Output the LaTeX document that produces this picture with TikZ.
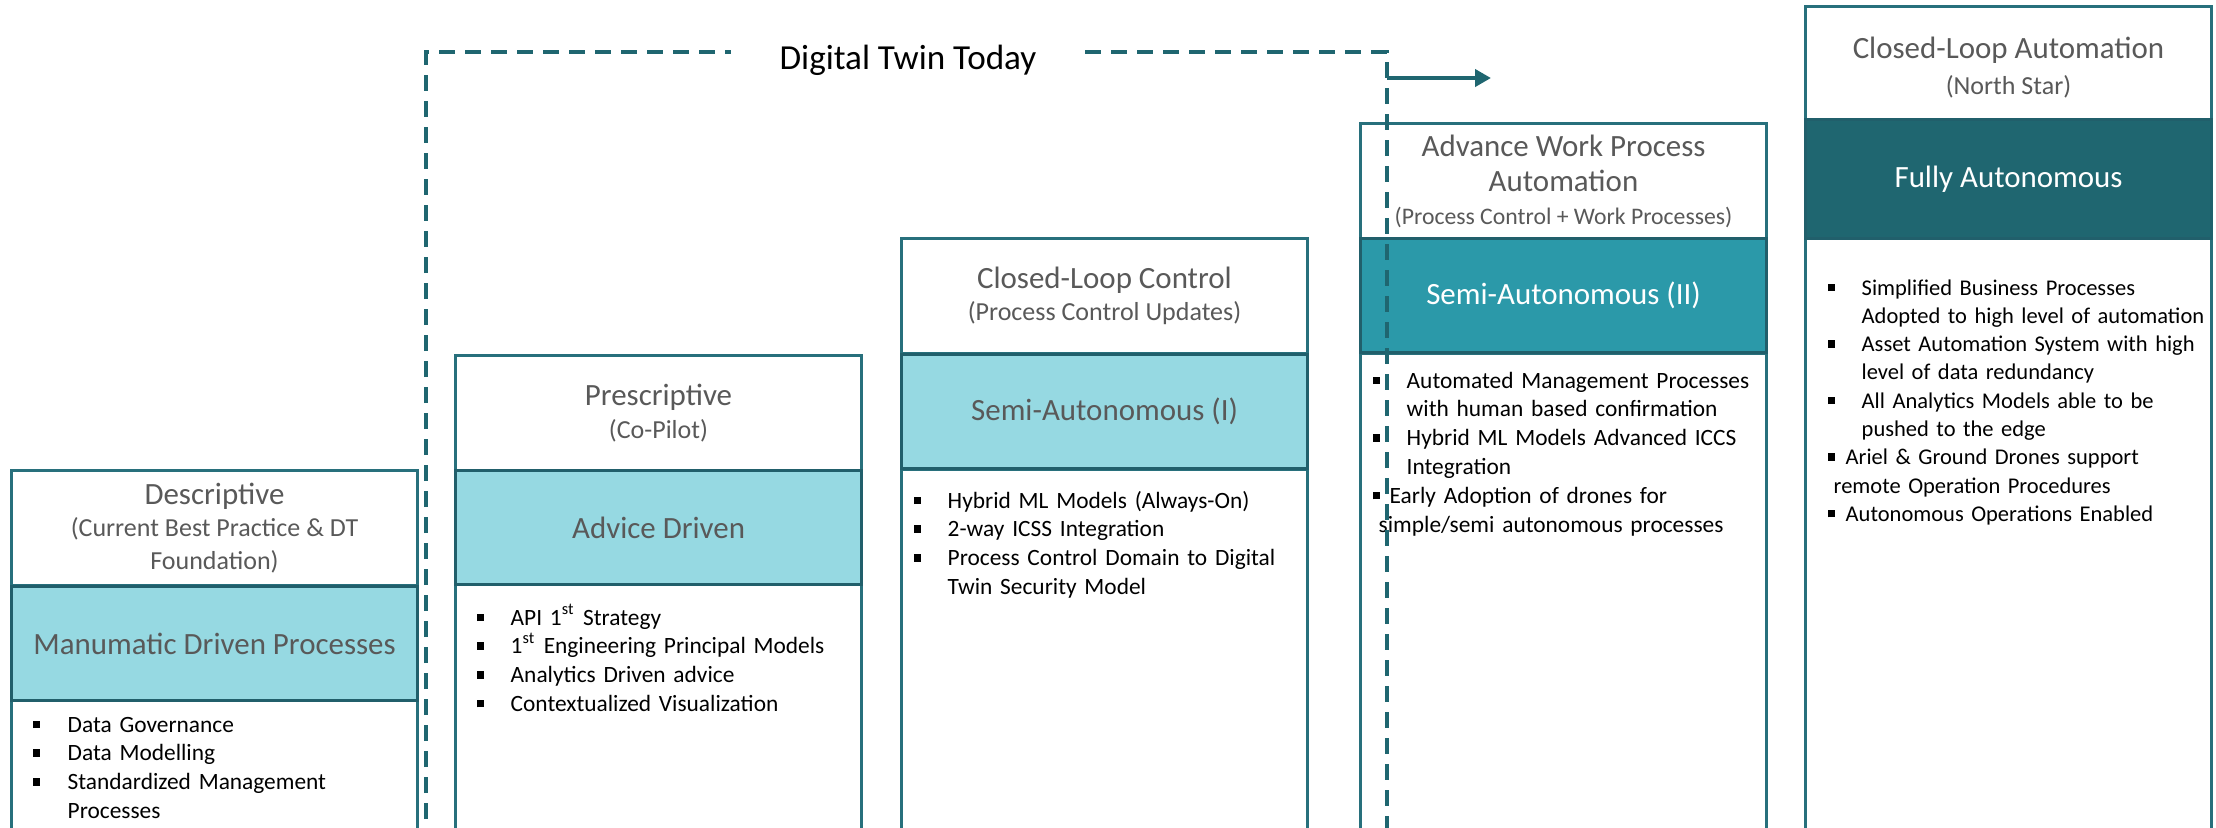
\documentclass[tikz,border=0pt]{standalone}
\usepackage{fontspec}
\setmainfont{Carlito}
\usepackage{tikz}
\usetikzlibrary{arrows.meta,positioning}
\definecolor{boxEdge}{RGB}{40,112,124}
\definecolor{bandEdge}{RGB}{33,95,107}
\definecolor{bandLight}{RGB}{150,217,226}
\definecolor{bandMid}{RGB}{43,153,169}
\definecolor{bandDark}{RGB}{31,102,112}
\definecolor{stageGray}{RGB}{89,89,89}

\newcommand{\stageTitle}{\fontsize{8.8}{10.5}\selectfont}
\newcommand{\stageSub}{\fontsize{7.4}{9.2}\selectfont}
\newcommand{\stageList}{\fontsize{6.65}{8.2}\selectfont}
\newcommand{\bulsq}{\raisebox{0.04cm}{\rule{0.075cm}{0.075cm}}}
% #1 bullet-to-text gap, #2 indent of wrapped lines, #3 item text
\newcommand{\bitem}[3]{\noindent\hangindent=#2\hangafter=1\makebox[#1][l]{\bulsq}#3\par}

\begin{document}
\begin{tikzpicture}[y=-1cm,
  hdr/.style={rectangle,draw=boxEdge,fill=white,line width=0.85pt,anchor=north west,
              minimum width=4.06cm,minimum height=1.15cm,inner sep=0pt,align=center,
              text=stageGray,font=\stageSub},
  lvl/.style={rectangle,draw=bandEdge,fill=bandLight,line width=0.9pt,anchor=north west,
              minimum width=4.06cm,minimum height=1.14cm,inner sep=0pt,
              text=stageGray,font=\stageTitle},
  body/.style={rectangle,draw=boxEdge,fill=white,line width=0.85pt,anchor=north west,
               minimum width=4.06cm,inner sep=0pt},
  blist/.style={anchor=base west,inner sep=0pt,text width=4cm,align=left,font=\stageList},
  dtline/.style={bandDark,line width=0.95pt,dash pattern=on 0.16cm off 0.10cm},
  dtarrow/.style={bandDark,line width=1.4pt,-{Triangle[length=0.16cm,width=0.17cm]}}
]
  \useasboundingbox (0,0) rectangle (22.16,8.27);
  \clip (0,0) rectangle (22.16,8.27);

  % stage 1
  \node[body,minimum height=1.6cm] (b1) at (0.10,6.99) {};
  \node[hdr] (h1) at (0.10,4.69) {{\stageTitle Descriptive}\\{(Current Best Practice \& DT}\\{Foundation)}};
  \node[lvl] (m1) at (0.10,5.85) {Manumatic Driven Processes};
  \node[blist] (l1) at (0.32,7.32) {%
    \bitem{0.35cm}{0.35cm}{Data Governance}
    \bitem{0.35cm}{0.35cm}{Data Modelling}
    \bitem{0.35cm}{0.35cm}{Standardized Management\newline Processes}};

  % stage 2
  \node[body,minimum height=2.7cm] (b2) at (4.54,5.83) {};
  \node[hdr] (h2) at (4.54,3.54) {{\stageTitle Prescriptive}\\{(Co-Pilot)}};
  \node[lvl] (m2) at (4.54,4.69) {Advice Driven};
  \node[blist] (l2) at (4.76,6.25) {%
    \bitem{0.34cm}{0.34cm}{API 1\textsuperscript{st} Strategy}
    \bitem{0.34cm}{0.34cm}{1\textsuperscript{st} Engineering Principal Models}
    \bitem{0.34cm}{0.34cm}{Analytics Driven advice}
    \bitem{0.34cm}{0.34cm}{Contextualized Visualization}};

  % stage 3
  \node[body,minimum height=3.9cm] (b3) at (9.00,4.68) {};
  \node[hdr] (h3) at (9.00,2.37) {{\stageTitle Closed-Loop Control}\\{(Process Control Updates)}};
  \node[lvl] (m3) at (9.00,3.53) {Semi-Autonomous (I)};
  \node[blist] (l3) at (9.13,5.08) {%
    \bitem{0.34cm}{0.34cm}{Hybrid ML Models (Always-On)}
    \bitem{0.34cm}{0.34cm}{2-way ICSS Integration}
    \bitem{0.34cm}{0.34cm}{Process Control Domain to Digital\newline Twin Security Model}};

  % stage 4
  \node[body,minimum height=5.0cm] (b4) at (13.59,3.52) {};
  \node[hdr] (h4) at (13.59,1.22) {{\stageTitle Advance Work Process}\\[1pt]{\stageTitle Automation}\\{\fontsize{6.75}{8.4}\selectfont(Process Control + Work Processes)}};
  \node[lvl,fill=bandMid,text=white] (m4) at (13.59,2.37) {Semi-Autonomous (II)};
  \node[blist] (l4) at (13.72,3.88) {%
    \bitem{0.34cm}{0.34cm}{Automated Management Processes\newline with human based confirmation}
    \bitem{0.34cm}{0.34cm}{Hybrid ML Models Advanced ICCS\newline Integration}
    \bitem{0.17cm}{0.06cm}{Early Adoption of drones for\newline simple/semi autonomous processes}};

  % stage 5
  \node[body,minimum height=6.2cm] (b5) at (18.04,2.37) {};
  \node[hdr,minimum height=1.13cm] (h5) at (18.04,0.05) {{\stageTitle\rule{0pt}{8.6pt}Closed-Loop Automation}\\[1pt]{(North Star)}};
  \node[lvl,fill=bandDark,text=white,minimum height=1.19cm] (m5) at (18.04,1.18) {Fully Autonomous};
  \node[blist,font=\fontsize{6.4}{8.05}\selectfont] (l5) at (18.27,2.95) {%
    \bitem{0.34cm}{0.34cm}{Simplified Business Processes\newline Adopted to high level of automation}
    \bitem{0.34cm}{0.34cm}{Asset Automation System with high\newline level of data redundancy}
    \bitem{0.34cm}{0.34cm}{All Analytics Models able to be\newline pushed to the edge}
    \bitem{0.18cm}{0.06cm}{Ariel \& Ground Drones support\newline remote Operation Procedures}
    \bitem{0.18cm}{0.06cm}{Autonomous Operations Enabled}};

  % digital twin bracket
  \node[inner ysep=2pt,inner xsep=0.48cm,font=\fontsize{10}{12}\selectfont] (dt) at (9.08,0.60) {Digital Twin Today};
  \coordinate (dtSW) at (4.26,8.45);
  \coordinate (dtNW) at (4.26,0.52);
  \coordinate (dtNE) at (13.87,0.52);
  \coordinate (dtSE) at (13.87,8.45);
  \coordinate (arrS) at (13.87,0.78);
  \coordinate (arrE) at (14.91,0.78);
  \draw[dtline] (dtSW) -- (dtNW) -- (dtNW -| dt.west);
  \draw[dtline] (dtNE -| dt.east) -- (dtNE) -- (dtSE);
  \draw[dtarrow] (arrS) -- (arrE);
\end{tikzpicture}
\end{document}
